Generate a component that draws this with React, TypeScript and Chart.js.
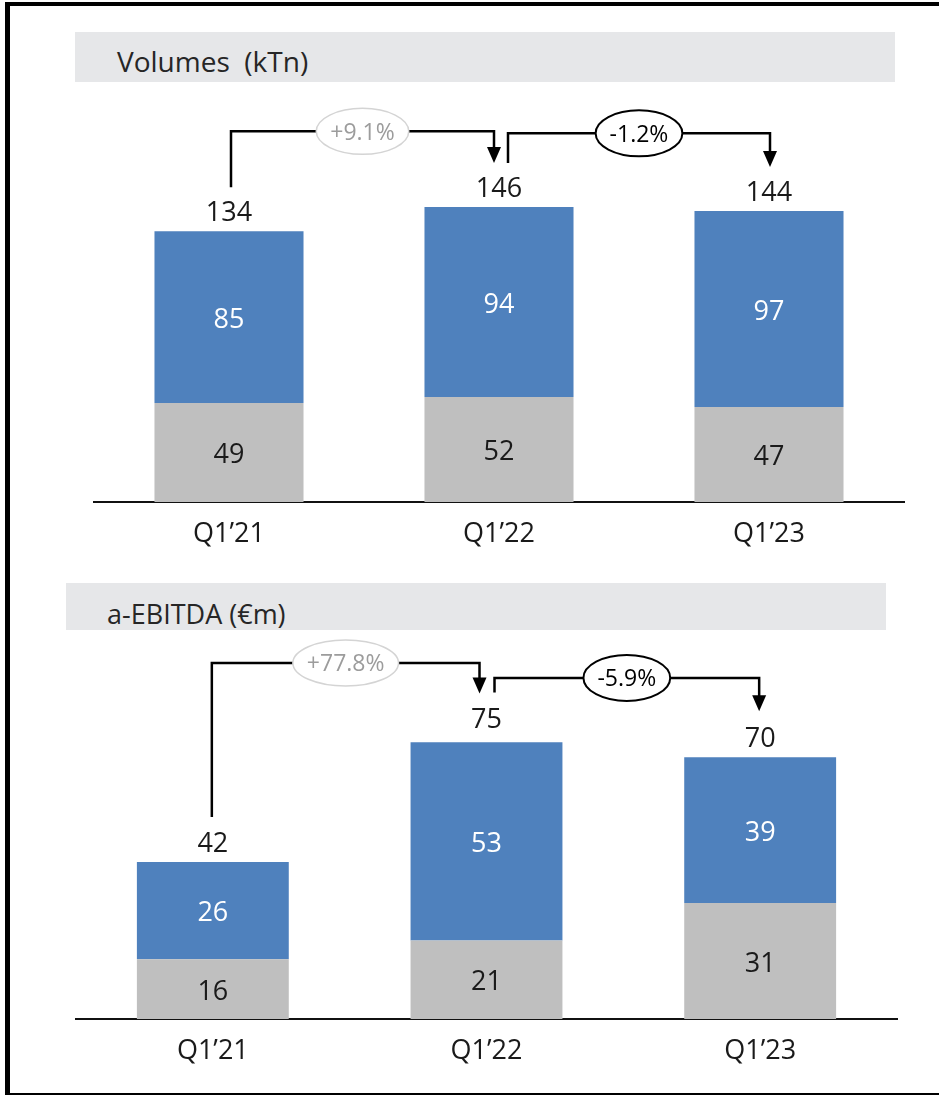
import React, { useEffect, useRef } from "react";
import { Chart, registerables } from "chart.js";

Chart.register(...registerables);

// ---------- DATA ----------
const categories = ["Q1\u201921", "Q1\u201922", "Q1\u201923"];

const volumeTitle = "Volumes  (kTn)";
const volumeBase = [49, 52, 47];
const volumeTop = [85, 94, 97];
const volumeTotals = [134, 146, 144];
const volumeChanges = ["+9.1%", "-1.2%"];

const ebitdaTitle = "a-EBITDA (\u20acm)";
const ebitdaBase = [16, 21, 31];
const ebitdaTop = [26, 53, 39];
const ebitdaTotals = [42, 75, 70];
const ebitdaChanges = ["+77.8%", "-5.9%"];

// ---------- STYLE ----------
const BLUE = "#4f81bd";
const GREY = "#bfbfbf";
const TEXT = "#1a1a1a";
const FONT = "'Open Sans', 'Noto Sans', sans-serif";

type Bracket = {
  from: number;
  to: number;
  label: string;
  muted: boolean;
  level: number; // y value (data units) of the horizontal connector
  startDx: number;
  endDx: number;
  gap: number;
};

const annotPlugin = {
  id: "annot",
  afterDatasetsDraw(chart: any, _args: any, opts: any) {
    const ctx: CanvasRenderingContext2D = chart.ctx;
    const yScale = chart.scales.y;
    const m0 = chart.getDatasetMeta(0);
    const m1 = chart.getDatasetMeta(1);
    const totals: number[] = opts.totals;
    ctx.save();
    // segment labels
    const segColors = ["#1a1a1a", "#ffffff"];
    [m0, m1].forEach((meta: any, di: number) => {
      meta.data.forEach((el: any, i: number) => {
        const v = chart.data.datasets[di].data[i];
        const p = el.getProps(["x", "y", "base"], true);
        ctx.fillStyle = segColors[di];
        ctx.font = `${opts.fontSize}px ${FONT}`;
        ctx.textAlign = "center";
        ctx.textBaseline = "middle";
        ctx.fillText(String(v), p.x, (p.y + p.base) / 2 + 3);
      });
    });
    // totals
    m1.data.forEach((el: any, i: number) => {
      const p = el.getProps(["x", "y"], true);
      ctx.fillStyle = TEXT;
      ctx.font = `${opts.fontSize}px ${FONT}`;
      ctx.textAlign = "center";
      ctx.textBaseline = "middle";
      ctx.fillText(String(totals[i]), p.x, yScale.getPixelForValue(totals[i]) - 18);
    });
    // brackets
    const brackets: Bracket[] = opts.brackets;
    brackets.forEach((b) => {
      const xs = m1.data[b.from].x + b.startDx;
      const xe = m1.data[b.to].x + b.endDx;
      const ys = yScale.getPixelForValue(totals[b.from]) - b.gap;
      const ye = yScale.getPixelForValue(totals[b.to]) - b.gap;
      const yl = yScale.getPixelForValue(b.level);
      const ah = 16;
      const aw = 7;
      ctx.strokeStyle = "#000";
      ctx.lineWidth = 2.5;
      ctx.lineJoin = "miter";
      ctx.beginPath();
      ctx.moveTo(xs, ys);
      ctx.lineTo(xs, yl);
      ctx.lineTo(xe, yl);
      ctx.lineTo(xe, ye - ah + 1);
      ctx.stroke();
      ctx.fillStyle = "#000";
      ctx.beginPath();
      ctx.moveTo(xe - aw, ye - ah);
      ctx.lineTo(xe + aw, ye - ah);
      ctx.lineTo(xe, ye);
      ctx.closePath();
      ctx.fill();
      // ellipse label
      ctx.font = `${opts.pctSize}px ${FONT}`;
      const tw = ctx.measureText(b.label).width;
      const cx = (xs + xe) / 2;
      const rx = tw / 2 + 14;
      const ry = 23;
      ctx.beginPath();
      ctx.ellipse(cx, yl, rx, ry, 0, 0, Math.PI * 2);
      ctx.fillStyle = "#fff";
      ctx.fill();
      ctx.lineWidth = b.muted ? 1.5 : 2;
      ctx.strokeStyle = b.muted ? "#d4d4d4" : "#000";
      ctx.stroke();
      ctx.fillStyle = b.muted ? "#9c9c9c" : "#000";
      ctx.textAlign = "center";
      ctx.textBaseline = "middle";
      ctx.fillText(b.label, cx, yl + 2);
    });
    ctx.restore();
  },
};

function makeConfig(
  base: number[],
  top: number[],
  totals: number[],
  yMax: number,
  padding: any,
  barPct: number,
  brackets: Bracket[]
): any {
  return {
    type: "bar",
    data: {
      labels: categories,
      datasets: [
        { data: base, backgroundColor: GREY, borderWidth: 0, categoryPercentage: 1, barPercentage: barPct },
        { data: top, backgroundColor: BLUE, borderWidth: 0, categoryPercentage: 1, barPercentage: barPct },
      ],
    },
    options: {
      responsive: false,
      animation: false,
      events: [],
      layout: { padding },
      plugins: {
        legend: { display: false },
        tooltip: { enabled: false },
        title: { display: false },
        annot: { totals, brackets, fontSize: 27, pctSize: 23 },
      },
      scales: {
        x: {
          stacked: true,
          grid: { display: false, drawTicks: false },
          border: { display: true, color: "#111", width: 2 },
          ticks: { color: TEXT, font: { family: FONT, size: 27 }, padding: 16 },
        },
        y: { stacked: true, display: false, min: 0, max: yMax },
      },
    },
    plugins: [annotPlugin],
  };
}

function BarChart(props: { config: any; top: number; height: number }) {
  const ref = useRef<HTMLCanvasElement | null>(null);
  useEffect(() => {
    if (!ref.current) return;
    const chart = new Chart(ref.current, props.config);
    return () => chart.destroy();
  }, []);
  return (
    <canvas
      ref={ref}
      width={939}
      height={props.height}
      style={{ position: "absolute", left: 0, top: props.top, width: 939, height: props.height, display: "block" }}
    />
  );
}

const volumeBrackets: Bracket[] = [
  { from: 0, to: 1, label: volumeChanges[0], muted: true, level: 183.5, startDx: 2, endDx: -5, gap: 44 },
  { from: 1, to: 2, label: volumeChanges[1], muted: false, level: 182.5, startDx: 9, endDx: 1, gap: 44 },
];
const ebitdaBrackets: Bracket[] = [
  { from: 0, to: 1, label: ebitdaChanges[0], muted: true, level: 95.2, startDx: -1, endDx: -7, gap: 45 },
  { from: 1, to: 2, label: ebitdaChanges[1], muted: false, level: 91.2, startDx: 8, endDx: -1, gap: 46 },
];

const volumeConfig = makeConfig(
  volumeBase,
  volumeTop,
  volumeTotals,
  200,
  { top: 98, left: 94, right: 35, bottom: 13.6 },
  0.552,
  volumeBrackets
);
const ebitdaConfig = makeConfig(
  ebitdaBase,
  ebitdaTop,
  ebitdaTotals,
  100,
  { top: 85, left: 76, right: 42, bottom: 11.6 },
  0.555,
  ebitdaBrackets
);

export default function App() {
  return (
    <div style={{ position: "absolute", left: 0, top: 0, width: 939, height: 1095, overflow: "hidden", background: "#fff", fontFamily: FONT }}>
      <div
        style={{
          position: "absolute",
          left: 75,
          top: 32,
          width: 820,
          height: 50,
          background: "#e6e7e9",
        }}
      />
      <div
        style={{
          position: "absolute",
          left: 117,
          top: 47,
          fontSize: 28,
          lineHeight: "28px",
          color: "#262626",
          whiteSpace: "pre",
        }}
      >
        {volumeTitle}
      </div>
      <div
        style={{
          position: "absolute",
          left: 66,
          top: 583,
          width: 820,
          height: 47,
          background: "#e6e7e9",
        }}
      />
      <div
        style={{
          position: "absolute",
          left: 107,
          top: 600,
          fontSize: 27,
          lineHeight: "27px",
          color: "#262626",
          whiteSpace: "pre",
        }}
      >
        {ebitdaTitle}
      </div>
      <BarChart config={volumeConfig} top={0} height={580} />
      <BarChart config={ebitdaConfig} top={560} height={535} />
      <div
        style={{
          position: "absolute",
          left: 5,
          top: 2,
          width: 934,
          height: 1093,
          boxSizing: "border-box",
          borderLeft: "5px solid #000",
          borderTop: "4px solid #000",
          borderBottom: "2px solid #000",
          pointerEvents: "none",
        }}
      />
    </div>
  );
}
